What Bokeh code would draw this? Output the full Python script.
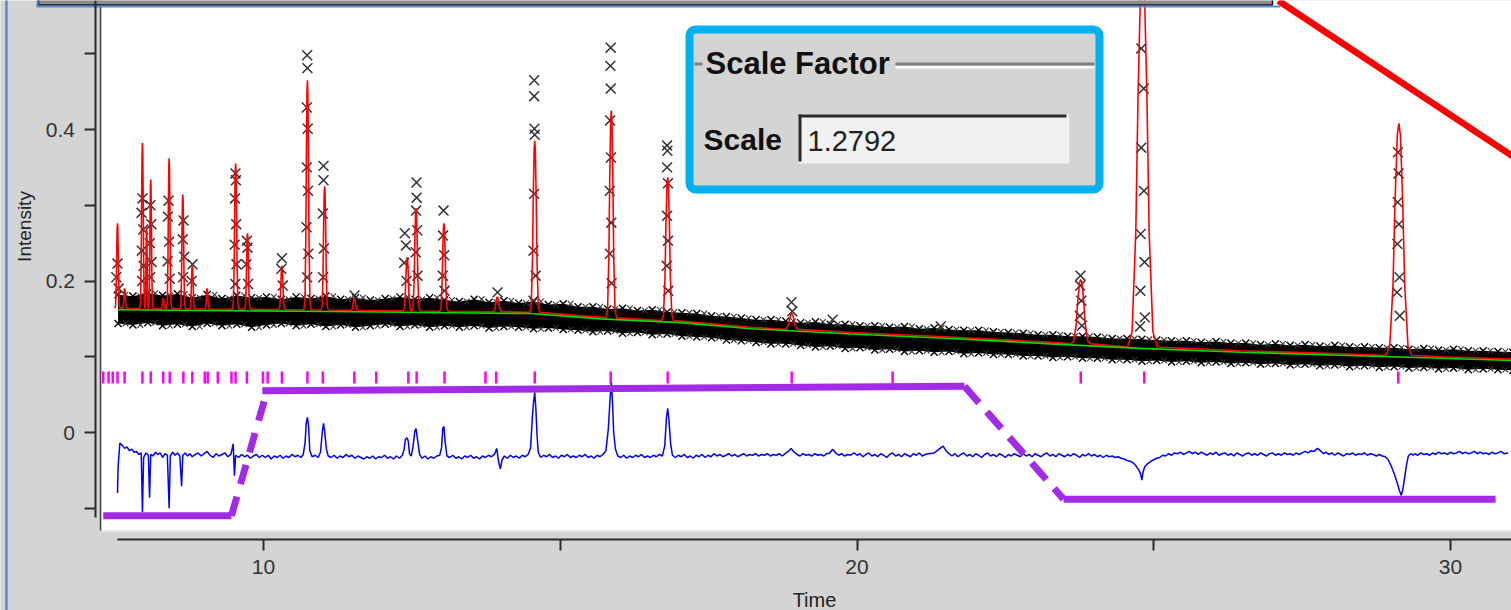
import numpy as np
from bokeh.plotting import figure
from bokeh.models import (Range1d, LinearAxis, FixedTicker, CustomJSTickFormatter,
                          Label, BoxAnnotation)
from bokeh.embed import file_html
from bokeh.resources import INLINE

# ---------------------------------------------------------------- data
# refined background (green), time vs intensity
bg_time = [7.54, 10.62, 13.15, 14.50, 15.68, 17.03, 18.21, 19.89, 21.58,
           23.26, 24.78, 26.46, 28.15, 29.83, 31.03]
bg_level = [0.162, 0.160, 0.158, 0.157, 0.150, 0.145, 0.137, 0.130, 0.124,
            0.117, 0.111, 0.106, 0.102, 0.098, 0.095]

# calculated reflections (red): position, peak top, half width at the base
peak_time = [7.54, 7.66, 7.96, 8.03, 8.10, 8.31, 8.41, 8.64, 8.80, 9.05,
             9.53, 9.73, 10.31, 10.74, 11.03, 11.53, 12.42, 12.57, 13.04,
             13.94, 14.57, 15.86, 16.81, 18.90, 23.77, 24.81, 29.13]
peak_top = [0.276, 0.190, 0.382, 0.270, 0.334, 0.177, 0.362, 0.314, 0.220,
            0.190, 0.355, 0.263, 0.220, 0.465, 0.325, 0.177, 0.231, 0.296,
            0.276, 0.179, 0.385, 0.425, 0.337, 0.157, 0.202, 0.620, 0.408]
peak_halfwidth = [0.045, 0.04, 0.045, 0.028, 0.04, 0.04, 0.045, 0.045, 0.045,
                  0.04, 0.055, 0.05, 0.055, 0.06, 0.06, 0.06, 0.07, 0.07,
                  0.07, 0.08, 0.085, 0.09, 0.10, 0.12, 0.17, 0.25, 0.22]

# reflection tick marks (magenta)
tick_time = [7.30, 7.39, 7.46, 7.54, 7.66, 7.96, 8.10, 8.31, 8.42, 8.65,
             8.80, 9.01, 9.06, 9.23, 9.46, 9.53, 9.72, 9.99, 10.07, 10.31,
             10.74, 11.00, 11.53, 11.90, 12.44, 12.58, 13.05, 13.74, 13.92,
             14.57, 15.85, 16.81, 18.90, 20.60, 23.77, 24.84, 29.12]

# observed counts: dense band along the background, sampled every 0.25 from 7.55
band_start = 7.55
band_step = 0.25
band_hi = [0.182, 0.180, 0.184, 0.181, 0.183, 0.178, 0.182, 0.177, 0.181, 0.178,
           0.179, 0.176, 0.179, 0.177, 0.180, 0.176, 0.178, 0.175, 0.177, 0.179,
           0.176, 0.178, 0.175, 0.173, 0.176, 0.172, 0.174, 0.171, 0.173, 0.169,
           0.170, 0.166, 0.166, 0.163, 0.164, 0.161, 0.162, 0.159, 0.158, 0.157,
           0.154, 0.153, 0.151, 0.149, 0.149, 0.147, 0.145, 0.146, 0.143, 0.143,
           0.141, 0.141, 0.139, 0.140, 0.137, 0.138, 0.136, 0.135, 0.135, 0.133,
           0.132, 0.131, 0.129, 0.129, 0.127, 0.127, 0.126, 0.124, 0.124, 0.123,
           0.122, 0.121, 0.121, 0.119, 0.120, 0.118, 0.118, 0.116, 0.117, 0.115,
           0.116, 0.114, 0.115, 0.113, 0.113, 0.112, 0.112, 0.110, 0.111, 0.109,
           0.110, 0.108, 0.108, 0.107, 0.106]
band_lo = [0.144, 0.142, 0.145, 0.141, 0.143, 0.140, 0.144, 0.141, 0.143, 0.139,
           0.142, 0.144, 0.141, 0.143, 0.140, 0.142, 0.139, 0.141, 0.143, 0.140,
           0.142, 0.139, 0.141, 0.139, 0.141, 0.138, 0.140, 0.139, 0.137, 0.138,
           0.136, 0.135, 0.133, 0.134, 0.131, 0.132, 0.129, 0.130, 0.127, 0.126,
           0.125, 0.122, 0.121, 0.119, 0.117, 0.117, 0.115, 0.113, 0.114, 0.111,
           0.112, 0.109, 0.110, 0.107, 0.108, 0.106, 0.107, 0.104, 0.105, 0.103,
           0.103, 0.101, 0.101, 0.099, 0.100, 0.098, 0.098, 0.096, 0.096, 0.094,
           0.095, 0.093, 0.094, 0.092, 0.093, 0.091, 0.092, 0.090, 0.091, 0.089,
           0.090, 0.088, 0.089, 0.087, 0.088, 0.086, 0.087, 0.085, 0.086, 0.084,
           0.085, 0.083, 0.084, 0.083, 0.082]

# observed counts standing out on the reflections (time, intensity)
obs_points = [
    (7.540, 0.223), (7.520, 0.205), (7.560, 0.190),
    (7.961, 0.309), (7.945, 0.290), (7.975, 0.268), (7.950, 0.240), (7.980, 0.220), (7.955, 0.200),
    (8.096, 0.300), (8.110, 0.275), (8.085, 0.250), (8.115, 0.225), (8.090, 0.205),
    (8.400, 0.306), (8.390, 0.285), (8.410, 0.252), (8.385, 0.226), (8.420, 0.203),
    (8.652, 0.280), (8.640, 0.255), (8.665, 0.232), (8.645, 0.205),
    (8.804, 0.222), (8.790, 0.200),
    (9.528, 0.342), (9.535, 0.333), (9.520, 0.309), (9.540, 0.275), (9.515, 0.248), (9.545, 0.222), (9.525, 0.196),
    (9.720, 0.253), (9.730, 0.244), (9.710, 0.222), (9.740, 0.196),
    (10.310, 0.230), (10.300, 0.216), (10.325, 0.194),
    (10.735, 0.498), (10.740, 0.481), (10.730, 0.429), (10.745, 0.401), (10.730, 0.350),
    (10.750, 0.319), (10.725, 0.271), (10.755, 0.236), (10.735, 0.205),
    (11.011, 0.352), (11.011, 0.333), (11.000, 0.289), (11.020, 0.243), (11.005, 0.205),
    (11.533, 0.181),
    (12.380, 0.263), (12.400, 0.247), (12.370, 0.224), (12.410, 0.200),
    (12.578, 0.330), (12.580, 0.310), (12.570, 0.293), (12.590, 0.267), (12.565, 0.238), (12.595, 0.207),
    (13.033, 0.293), (13.025, 0.260), (13.045, 0.234), (13.020, 0.207), (13.050, 0.187),
    (13.943, 0.185),
    (14.560, 0.465), (14.560, 0.444), (14.565, 0.401), (14.570, 0.393), (14.560, 0.315),
    (14.550, 0.240), (14.585, 0.207), (14.550, 0.174),
    (15.850, 0.508), (15.845, 0.484), (15.850, 0.454), (15.840, 0.412), (15.855, 0.363),
    (15.835, 0.319), (15.860, 0.277), (15.835, 0.236), (15.865, 0.197),
    (16.800, 0.379), (16.805, 0.372), (16.800, 0.350), (16.815, 0.329), (16.800, 0.286),
    (16.815, 0.253), (16.795, 0.220), (16.820, 0.187),
    (18.896, 0.172), (18.910, 0.160),
    (19.590, 0.149), (21.410, 0.140),
    (23.766, 0.207), (23.760, 0.194), (23.780, 0.174), (23.755, 0.154), (23.790, 0.141),
    (24.790, 0.507), (24.830, 0.454), (24.790, 0.376), (24.835, 0.319), (24.780, 0.262),
    (24.845, 0.225), (24.775, 0.187), (24.850, 0.152), (24.770, 0.140),
    (29.115, 0.370), (29.125, 0.342), (29.110, 0.304), (29.130, 0.275), (29.105, 0.249),
    (29.140, 0.205), (29.100, 0.185), (29.145, 0.154),
]

# difference curve (blue): time, observed - calculated (x 1e-3)
diff_points = [
    (7.54, -80), (7.55, -45), (7.58, -14), (7.62, -17), (7.66, -21), (7.70, -19),
    (7.74, -24), (7.78, -22), (7.82, -26), (7.86, -25), (7.90, -29), (7.94, -27),
    (7.96, -105), (7.98, -33), (8.02, -27), (8.06, -30), (8.08, -86), (8.10, -29),
    (8.14, -31), (8.18, -26), (8.22, -29), (8.26, -27), (8.30, -33), (8.34, -28),
    (8.38, -30), (8.41, -100), (8.43, -31), (8.47, -26), (8.51, -30), (8.55, -27),
    (8.59, -31), (8.62, -71), (8.64, -30), (8.68, -27), (8.72, -31), (8.76, -28),
    (8.80, -32), (8.85, -29), (8.90, -27), (8.95, -31), (9.00, -28), (9.05, -25),
    (9.10, -30), (9.15, -33), (9.20, -28), (9.25, -31), (9.30, -29), (9.35, -27),
    (9.40, -32), (9.45, -29), (9.49, -15), (9.51, -57), (9.53, -30), (9.58, -33),
    (9.63, -29), (9.68, -32), (9.73, -30), (9.78, -34), (9.83, -31), (9.88, -29),
    (9.93, -33), (9.98, -30), (10.03, -33), (10.08, -30), (10.13, -35), (10.18, -31),
    (10.23, -33), (10.28, -30), (10.33, -34), (10.38, -31), (10.43, -33), (10.48, -29),
    (10.53, -32), (10.58, -30), (10.63, -33), (10.67, -29), (10.70, -14), (10.72, 12),
    (10.74, 20), (10.76, 8), (10.78, -24), (10.82, -32), (10.87, -30), (10.92, -33),
    (10.96, -26), (10.99, 0), (11.01, 12), (11.03, 2), (11.06, -22), (11.09, -31),
    (11.14, -33), (11.19, -30), (11.24, -34), (11.29, -31), (11.34, -33), (11.39, -29),
    (11.44, -32), (11.49, -30), (11.54, -34), (11.59, -31), (11.64, -33), (11.69, -35),
    (11.74, -32), (11.79, -34), (11.84, -31), (11.89, -35), (11.94, -32), (11.99, -33),
    (12.04, -30), (12.09, -34), (12.14, -32), (12.19, -35), (12.24, -31), (12.29, -34),
    (12.34, -30), (12.37, -22), (12.39, -9), (12.42, -7), (12.44, -12), (12.46, -28),
    (12.49, -31), (12.52, -18), (12.55, 2), (12.57, 5), (12.60, -12), (12.63, -29),
    (12.67, -34), (12.72, -31), (12.77, -35), (12.82, -32), (12.87, -34), (12.92, -31),
    (12.97, -30), (13.00, -20), (13.02, 5), (13.04, 8), (13.06, -12), (13.09, -31),
    (13.14, -33), (13.19, -30), (13.24, -34), (13.29, -32), (13.34, -35), (13.39, -31),
    (13.44, -33), (13.49, -30), (13.54, -34), (13.59, -32), (13.64, -35), (13.69, -31),
    (13.74, -33), (13.79, -30), (13.84, -32), (13.89, -29), (13.93, -21), (13.96, -38),
    (13.99, -48), (14.02, -36), (14.06, -31), (14.11, -34), (14.16, -30), (14.21, -33),
    (14.26, -31), (14.31, -34), (14.36, -30), (14.41, -32), (14.46, -29), (14.50, -20),
    (14.53, 20), (14.55, 40), (14.57, 53), (14.59, 30), (14.61, -5), (14.63, -26),
    (14.67, -33), (14.72, -30), (14.77, -32), (14.82, -29), (14.87, -33), (14.92, -31),
    (14.97, -34), (15.02, -30), (15.07, -32), (15.12, -29), (15.17, -33), (15.22, -31),
    (15.27, -33), (15.32, -30), (15.37, -32), (15.42, -29), (15.47, -33), (15.52, -31),
    (15.57, -34), (15.62, -30), (15.67, -32), (15.72, -29), (15.77, -24), (15.81, 5),
    (15.84, 45), (15.86, 66), (15.88, 40), (15.90, 0), (15.93, -22), (15.97, -31),
    (16.02, -33), (16.07, -30), (16.12, -34), (16.17, -31), (16.22, -33), (16.27, -30),
    (16.32, -32), (16.37, -29), (16.42, -33), (16.47, -31), (16.52, -33), (16.57, -30),
    (16.62, -32), (16.67, -29), (16.72, -31), (16.76, -18), (16.79, 20), (16.81, 32),
    (16.83, 18), (16.86, -15), (16.89, -30), (16.94, -33), (16.99, -30), (17.04, -32),
    (17.09, -29), (17.14, -33), (17.19, -31), (17.24, -34), (17.29, -30), (17.34, -32),
    (17.39, -29), (17.44, -33), (17.49, -30), (17.54, -32), (17.59, -28), (17.64, -31),
    (17.69, -29), (17.74, -32), (17.79, -30), (17.84, -28), (17.89, -31), (17.94, -29),
    (17.99, -32), (18.04, -30), (18.09, -28), (18.14, -31), (18.19, -29), (18.24, -30),
    (18.29, -28), (18.34, -31), (18.39, -29), (18.44, -30), (18.49, -28), (18.54, -31),
    (18.59, -29), (18.64, -30), (18.69, -28), (18.74, -31), (18.79, -28), (18.84, -25),
    (18.89, -21), (18.94, -26), (18.99, -29), (19.04, -31), (19.09, -28), (19.14, -30),
    (19.19, -29), (19.24, -31), (19.29, -28), (19.34, -30), (19.39, -29), (19.44, -31),
    (19.49, -28), (19.54, -27), (19.59, -22), (19.64, -27), (19.69, -30), (19.74, -28),
    (19.79, -31), (19.84, -29), (19.89, -30), (19.95, -27), (20.0, -30), (20.05, -28),
    (20.1, -32), (20.15, -29), (20.2, -27), (20.25, -31), (20.3, -29), (20.35, -32),
    (20.4, -28), (20.45, -30), (20.5, -33), (20.55, -29), (20.6, -27), (20.65, -31),
    (20.7, -29), (20.75, -32), (20.8, -28), (20.85, -30), (20.9, -32), (20.95, -28),
    (21.0, -30), (21.05, -27), (21.1, -31), (21.15, -29), (21.2, -28), (21.3, -27),
    (21.4, -21), (21.45, -18), (21.5, -24), (21.55, -28), (21.6, -31), (21.65, -28),
    (21.7, -32), (21.75, -29), (21.8, -27), (21.85, -31), (21.9, -29), (21.95, -32),
    (22.0, -28), (22.05, -30), (22.1, -33), (22.15, -29), (22.2, -27), (22.25, -31),
    (22.3, -29), (22.35, -32), (22.4, -28), (22.45, -30), (22.5, -33), (22.55, -29),
    (22.6, -31), (22.65, -28), (22.7, -30), (22.75, -32), (22.8, -28), (22.85, -31),
    (22.9, -29), (22.95, -32), (23.0, -28), (23.05, -30), (23.1, -32), (23.15, -29),
    (23.2, -27), (23.25, -31), (23.3, -29), (23.35, -32), (23.4, -28), (23.45, -30),
    (23.5, -32), (23.55, -29), (23.6, -31), (23.65, -28), (23.7, -30), (23.75, -33),
    (23.8, -29), (23.85, -31), (23.9, -28), (23.95, -31), (24.0, -29), (24.05, -32),
    (24.1, -30), (24.15, -33), (24.2, -30), (24.25, -32), (24.3, -31), (24.35, -33),
    (24.4, -32), (24.45, -34), (24.5, -35), (24.55, -37), (24.6, -38), (24.65, -40),
    (24.7, -44), (24.75, -50), (24.78, -55), (24.80, -63), (24.82, -52), (24.85, -45),
    (24.9, -41), (24.95, -38), (25.0, -36), (25.05, -34), (25.1, -33), (25.15, -30),
    (25.2, -31), (25.25, -28), (25.3, -30), (25.35, -27), (25.4, -28), (25.45, -26),
    (25.5, -29), (25.55, -27), (25.6, -25), (25.65, -28), (25.7, -26), (25.75, -29),
    (25.8, -26), (25.85, -28), (25.9, -30), (25.95, -27), (26.0, -29), (26.05, -26),
    (26.1, -30), (26.15, -28), (26.2, -27), (26.25, -30), (26.3, -28), (26.35, -31),
    (26.4, -27), (26.45, -29), (26.5, -31), (26.55, -28), (26.6, -27), (26.65, -30),
    (26.7, -28), (26.75, -30), (26.8, -27), (26.85, -29), (26.9, -31), (26.95, -28),
    (27.0, -27), (27.05, -30), (27.1, -28), (27.15, -30), (27.2, -27), (27.25, -29),
    (27.3, -28), (27.35, -30), (27.4, -27), (27.45, -29), (27.5, -27), (27.55, -25),
    (27.6, -27), (27.65, -24), (27.7, -25), (27.76, -21), (27.82, -25), (27.86, -28),
    (27.9, -26), (27.95, -29), (28.0, -27), (28.05, -30), (28.1, -27), (28.15, -29),
    (28.2, -31), (28.25, -28), (28.3, -29), (28.35, -27), (28.4, -30), (28.45, -28),
    (28.5, -29), (28.55, -27), (28.6, -30), (28.65, -28), (28.7, -29), (28.75, -31),
    (28.8, -29), (28.85, -31), (28.9, -32), (28.95, -36),
    (29.0, -44), (29.05, -54), (29.1, -66), (29.14, -77), (29.17, -83), (29.20, -74),
    (29.23, -58), (29.26, -42), (29.29, -31), (29.33, -28), (29.37, -30), (29.4, -28),
    (29.45, -30), (29.5, -27), (29.55, -29), (29.6, -28), (29.65, -30), (29.7, -27),
    (29.75, -29), (29.8, -26), (29.85, -28), (29.9, -27), (29.95, -29), (30.0, -26),
    (30.05, -28), (30.1, -27), (30.15, -25), (30.2, -28), (30.25, -26), (30.3, -28),
    (30.35, -27), (30.4, -25), (30.45, -28), (30.5, -26), (30.55, -28), (30.6, -27),
    (30.65, -29), (30.7, -26), (30.75, -28), (30.8, -27), (30.85, -25), (30.9, -28),
    (30.97, -27),
]

# scale-factor guide drawn over the pattern (time, level)
guide_low_time = [7.30, 9.46]
guide_low_level = [-0.110, -0.110]
guide_rise_time = [9.46, 10.05]
guide_rise_level = [-0.110, 0.052]
guide_high_time = [9.98, 21.81]
guide_high_level = [0.055, 0.061]
guide_fall_time = [21.81, 23.48]
guide_fall_level = [0.061, -0.088]
guide_end_time = [23.48, 30.76]
guide_end_level = [-0.088, -0.088]
pointer_time = [27.10, 31.10]
pointer_level = [0.570, 0.362]

# axis ticks
x_ticks = [10, 15, 20, 25, 30]
y_ticks = [-0.1, 0.0, 0.1, 0.2, 0.3, 0.4, 0.5, 0.6]
scale_value = "1.2792"


# ---------------------------------------------------------------- layout helpers
def sx(px):
    """panel pixel column -> time"""
    return 10.0 + (px - 263.0) / 59.35


def sy(py):
    """panel pixel row -> intensity"""
    return (432.0 - py) / 757.5


GRAY = "#d4d4d4"

p = figure(width=1511, height=610, output_backend="svg", toolbar_location=None,
           x_range=Range1d(sx(0), sx(1511)), y_range=Range1d(sy(610), sy(0)),
           x_axis_location=None, y_axis_location=None,
           background_fill_color=GRAY, border_fill_color=GRAY,
           outline_line_color=None, min_border=0)
p.min_border_left = p.min_border_right = 0
p.min_border_top = p.min_border_bottom = 0
p.grid.visible = False

# white plotting area and its left rim
p.quad(left=sx(101), right=sx(1515), top=sy(-5), bottom=sy(530),
       fill_color="white", line_color=None)
p.segment(x0=sx(100), y0=sy(0), x1=sx(100), y1=sy(530), line_color="#444444", line_width=1.5)
p.segment(x0=sx(101), y0=sy(530.5), x1=sx(1515), y1=sy(530.5), line_color="#e6e6e6", line_width=1.5)

# observed band and its ragged edges
band_x = band_start + band_step * np.arange(len(band_hi))
p.varea(x=band_x, y1=band_lo, y2=band_hi, fill_color="black")
p.scatter(band_x, band_hi, marker="x", size=10, line_color="black", line_width=1.4)
p.scatter(band_x + band_step / 2, band_hi, marker="x", size=8, line_color="#333333", line_width=1.1)
p.scatter(band_x, band_lo, marker="x", size=10, line_color="black", line_width=1.4)
p.scatter(band_x + band_step / 2, band_lo, marker="x", size=8, line_color="#333333", line_width=1.1)

# observed points on reflections
obs_x = [t for t, _ in obs_points]
obs_y = [v for _, v in obs_points]
p.scatter(obs_x, obs_y, marker="x", size=14, line_color="#333333", line_width=1.5)

# calculated profile = background + reflections
profile = [(-1.0, 0.0), (-0.7, 0.04), (-0.45, 0.3), (-0.3, 0.65), (-0.12, 0.95), (0.0, 1.0),
           (0.12, 0.95), (0.3, 0.65), (0.45, 0.3), (0.7, 0.04), (1.0, 0.0)]
verts = []
for t, b in zip(bg_time, bg_level):
    if all(abs(t - c) > w for c, w in zip(peak_time, peak_halfwidth)):
        verts.append((t, b + 0.002))
for c, h, w in zip(peak_time, peak_top, peak_halfwidth):
    base = float(np.interp(c, bg_time, bg_level)) + 0.002
    for dx, f in profile:
        verts.append((c + dx * w, base + f * (h - base)))
verts.sort(key=lambda q: q[0])
p.line([q[0] for q in verts], [q[1] for q in verts], line_color="#ff0000", line_width=1.6)

# background
p.line(bg_time, bg_level, line_color="#00dd00", line_width=1.6)

# reflection markers
p.segment(x0=tick_time, y0=[sy(383)] * len(tick_time), x1=tick_time, y1=[sy(371)] * len(tick_time),
          line_color="#ff00ff", line_width=2.5)

# difference
p.line([t for t, _ in diff_points], [d / 1000.0 for _, d in diff_points],
       line_color="#0000ff", line_width=1.5)

# scale-factor guide
PURPLE = "#a22be6"
p.line(guide_low_time, guide_low_level, line_color=PURPLE, line_width=7)
p.line(guide_rise_time, guide_rise_level, line_color=PURPLE, line_width=7, line_dash="20 13")
p.line(guide_high_time, guide_high_level, line_color=PURPLE, line_width=7)
p.line(guide_fall_time, guide_fall_level, line_color=PURPLE, line_width=7, line_dash="22 12")
p.line(guide_end_time, guide_end_level, line_color=PURPLE, line_width=7)
p.line(pointer_time, pointer_level, line_color="#ff0000", line_width=6.5)

# window chrome: title strip at the top and the left frame edge
p.quad(left=sx(38), right=sx(1272), top=sy(-3), bottom=sy(4.5), fill_color="#8c8c8c",
       line_color="#111111", line_width=1.5)
p.segment(x0=sx(36), y0=sy(6), x1=sx(1280), y1=sy(6), line_color="#5b8ad6", line_width=2)
p.segment(x0=sx(37), y0=sy(-2), x1=sx(37), y1=sy(6), line_color="#5b8ad6", line_width=2)
p.segment(x0=sx(6), y0=sy(-2), x1=sx(6), y1=sy(612), line_color="#5b8ad6", line_width=2.5)

# axes
yax = LinearAxis(fixed_location=sx(94.5), bounds=(sy(517), sy(-80)),
                 ticker=FixedTicker(ticks=y_ticks, minor_ticks=[]),
                 formatter=CustomJSTickFormatter(code="""
                     const r = Math.round(tick * 10);
                     if (r % 2 !== 0) return '';
                     return r === 0 ? '0' : (r / 10).toFixed(1);
                 """))
xax = LinearAxis(fixed_location=sy(539), bounds=(sx(117), sx(1515)),
                 ticker=FixedTicker(ticks=x_ticks, minor_ticks=[]),
                 formatter=CustomJSTickFormatter(code="""
                     return (Math.abs(tick % 10) < 1e-6) ? tick.toFixed(0) : '';
                 """),
                 axis_label="Time")
for ax in (yax, xax):
    ax.axis_line_color = "#2b2b2b"
    ax.axis_line_width = 2
    ax.major_tick_line_color = "#2b2b2b"
    ax.major_tick_line_width = 2
    ax.major_tick_out = 11
    ax.major_tick_in = 0
    ax.minor_tick_out = 0
    ax.minor_tick_in = 0
    ax.major_label_text_font = "Liberation Sans"
    ax.major_label_text_font_size = "21px"
    ax.major_label_text_color = "#333333"
    ax.major_label_standoff = 9
    ax.axis_label_text_font = "Liberation Sans"
    ax.axis_label_text_font_style = "normal"
    ax.axis_label_text_color = "#222222"
xax.axis_label_text_font_size = "20px"
xax.axis_label_standoff = 12
p.add_layout(yax, "left")
p.add_layout(xax, "below")

# vertical axis title
p.add_layout(Label(x=sx(24), y=sy(226), text="Intensity", angle=np.pi / 2,
                   text_font="Liberation Sans", text_font_size="19px", text_color="#222222",
                   text_align="center", text_baseline="middle"))

# "Scale Factor" panel
p.add_layout(BoxAnnotation(left=sx(689), right=sx(1099), top=sy(29), bottom=sy(189),
                           fill_color=GRAY, fill_alpha=1.0, line_color="#00b0f0",
                           line_alpha=1.0, line_width=8, border_radius=6))
p.add_layout(BoxAnnotation(left=sx(694), right=sx(702), top=sy(62), bottom=sy(65),
                           fill_color="#808080", fill_alpha=1.0, line_color=None))
p.add_layout(BoxAnnotation(left=sx(895), right=sx(1094), top=sy(62), bottom=sy(65),
                           fill_color="#808080", fill_alpha=1.0, line_color=None))
p.add_layout(BoxAnnotation(left=sx(895), right=sx(1094), top=sy(65.5), bottom=sy(68),
                           fill_color="white", fill_alpha=1.0, line_color=None))
p.add_layout(BoxAnnotation(left=sx(798), right=sx(1069), top=sy(114), bottom=sy(163),
                           fill_color="#f1f1f1", fill_alpha=1.0, line_color=None))
p.add_layout(BoxAnnotation(left=sx(798), right=sx(1066), top=sy(114), bottom=sy(117),
                           fill_color="#2a2a2a", fill_alpha=1.0, line_color=None))
p.add_layout(BoxAnnotation(left=sx(798), right=sx(801), top=sy(114), bottom=sy(161),
                           fill_color="#2a2a2a", fill_alpha=1.0, line_color=None))
p.add_layout(Label(x=sx(705), y=sy(63), text="Scale Factor", text_font="Liberation Sans",
                   text_font_style="bold", text_font_size="31px", text_color="#111111",
                   text_baseline="middle", text_align="left"))
p.add_layout(Label(x=sx(703), y=sy(139), text="Scale", text_font="Liberation Sans",
                   text_font_style="bold", text_font_size="30px", text_color="#111111",
                   text_baseline="middle", text_align="left"))
p.add_layout(Label(x=sx(807), y=sy(140), text=scale_value, text_font="Liberation Sans",
                   text_font_size="29px", text_color="#222222",
                   text_baseline="middle", text_align="left"))

open("out.html", "w").write(file_html(p, INLINE))
